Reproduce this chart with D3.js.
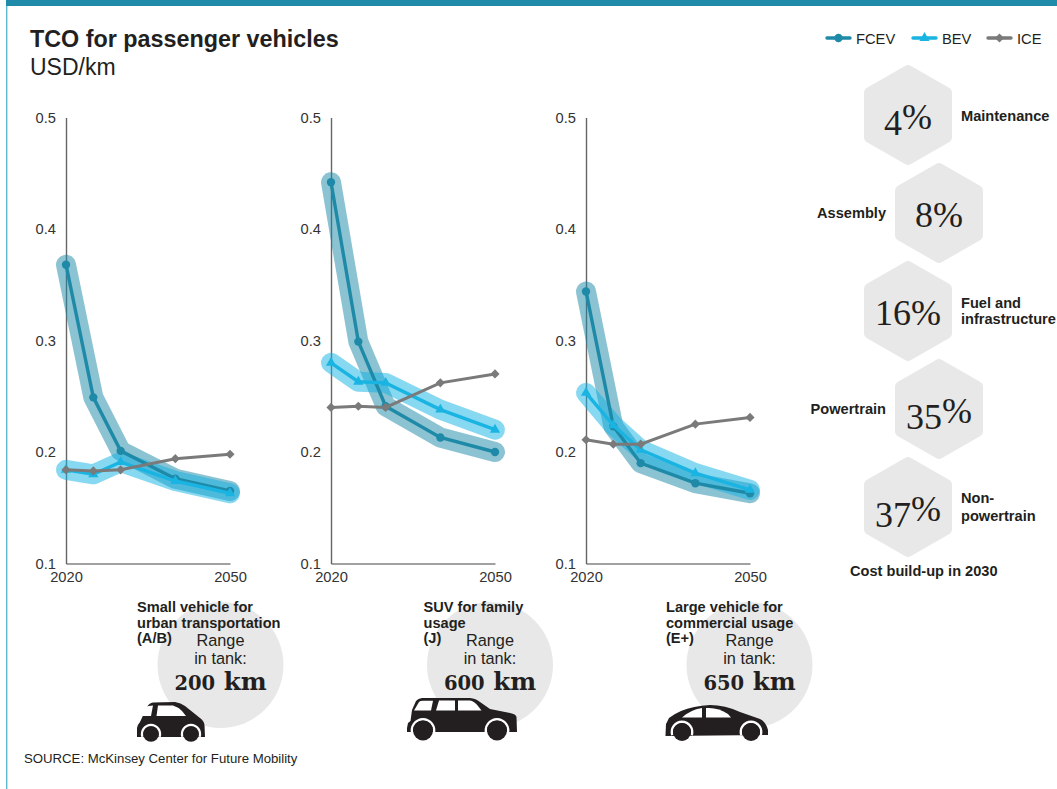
<!DOCTYPE html>
<html><head><meta charset="utf-8">
<script src="https://cdn.jsdelivr.net/npm/d3@7"></script>
<style>html,body{margin:0;padding:0;background:#fff}svg{display:block}text{font-family:"Liberation Sans",Arial,sans-serif;fill:#231f20}</style>
</head><body><svg id="c" width="1057" height="789"></svg>
<script>
const years=[2020,2025,2030,2040,2050];
const yTicks=[0.1,0.2,0.3,0.4,0.5];
const xTicks=[2020,2050];
const fcevA=[0.368,0.249,0.201,0.176,0.165];
const bevA=[0.184,0.180,0.191,0.174,0.163];
const iceA=[0.184,0.183,0.184,0.194,0.198];
const fcevB=[0.442,0.299,0.241,0.213,0.200];
const bevB=[0.280,0.263,0.262,0.238,0.220];
const iceB=[0.240,0.241,0.240,0.262,0.270];
const fcevC=[0.344,0.223,0.190,0.172,0.163];
const bevC=[0.253,0.224,0.202,0.181,0.166];
const iceC=[0.211,0.207,0.207,0.225,0.231];
const panelLeft=[66,331,586];
const panelFcev=[fcevA,fcevB,fcevC];
const panelBev=[bevA,bevB,bevC];
const panelIce=[iceA,iceB,iceC];
const vehicleLabels=[["Small vehicle for","urban transportation","(A/B)"],["SUV for family","usage","(J)"],["Large vehicle for","commercial usage","(E+)"]];
const rangeKm=["200","600","650"];
const shares=["4%","8%","16%","35%","37%"];
const shareLabels=[["Maintenance"],["Assembly"],["Fuel and","infrastructure"],["Powertrain"],["Non-","powertrain"]];

const COL={FCEV:"#1e8aa8",BEV:"#1ab4e2",ICE:"#7a7a7a"};
const svg=d3.select("#c");
svg.append("rect").attr("x",6).attr("y",0).attr("width",1.4).attr("height",789).attr("fill","#5cb8d0");
svg.append("rect").attr("x",6).attr("y",0).attr("width",1051).attr("height",6).attr("fill","#1f8ba8");
svg.append("text").attr("x",30).attr("y",47).attr("font-size",23.35).attr("font-weight",700).text("TCO for passenger vehicles");
svg.append("text").attr("x",30).attr("y",75).attr("font-size",23).text("USD/km");
svg.append("text").attr("x",24).attr("y",763).attr("font-size",13.2).text("SOURCE: McKinsey Center for Future Mobility");

const sym={FCEV:d3.symbol(d3.symbolCircle,55)(),BEV:d3.symbol(d3.symbolTriangle,45)(),ICE:d3.symbol(d3.symbolSquare,42)()};
const rot={FCEV:"",BEV:"",ICE:" rotate(45)"};
const y=d3.scaleLinear().domain([0.1,0.5]).range([563.5,117.5]);

panelLeft.forEach((left,i)=>{
  const x=d3.scaleLinear().domain([2020,2050]).range([left,left+164]);
  const g=svg.append("g");
  const line=d3.line().x((d,j)=>x(years[j])).y(d=>y(d)).curve(d3.curveLinear);
  const ya=g.append("g").attr("transform",`translate(${left},0)`)
    .call(d3.axisLeft(y).tickValues(yTicks).tickSize(0).tickPadding(10).tickFormat(d3.format(".1f")));
  ya.select(".domain").attr("stroke","#666").attr("stroke-width",1.4);
  ya.selectAll("text").attr("font-size",14.7).attr("font-family","Liberation Sans").style("fill","#333");
  const xa=g.append("g").attr("transform",`translate(0,563.5)`)
    .call(d3.axisBottom(x).tickValues(xTicks).tickSize(0).tickPadding(8).tickFormat(d3.format("d")));
  xa.select(".domain").attr("stroke","#444").attr("stroke-width",1.2);
  xa.selectAll("text").attr("font-size",14.7).attr("font-family","Liberation Sans").style("fill","#333");
  [[panelFcev[i],"#1987a7"],[panelBev[i],"#0fb1e3"]].forEach(([v,c])=>{
    g.append("path").attr("d",line(v)).attr("fill","none").attr("stroke",c).attr("stroke-width",20)
      .attr("stroke-linecap","round").attr("stroke-linejoin","round").attr("opacity",0.5);
  });
  [["FCEV",panelFcev[i]],["BEV",panelBev[i]],["ICE",panelIce[i]]].forEach(([k,v])=>{
    g.append("path").attr("d",line(v)).attr("fill","none").attr("stroke",COL[k]).attr("stroke-width",k==="ICE"?3:3.4);
    g.selectAll(null).data(v).join("path").attr("d",sym[k]).attr("fill",COL[k])
      .attr("transform",(d,j)=>`translate(${x(years[j])},${y(d)})${rot[k]}`);
  });
});

// legend
[["FCEV",827,856],["BEV",913,942],["ICE",988,1017]].forEach(([k,lx,tx])=>{
  svg.append("line").attr("x1",lx).attr("x2",lx+23).attr("y1",38).attr("y2",38).attr("stroke",COL[k]).attr("stroke-width",3.4).attr("stroke-linecap","round");
  svg.append("path").attr("d",sym[k]).attr("fill",COL[k]).attr("transform",`translate(${lx+11.5},38)${rot[k]}`);
  svg.append("text").attr("x",tx).attr("y",44).attr("font-size",14.7).text(k);
});

// range circles and labels
const circleX=[220.5,490,749.5], labelX=[137,423.5,666];
circleX.forEach((cx,i)=>{
  svg.append("circle").attr("cx",cx).attr("cy",665).attr("r",63).attr("fill","#e8e8e8");
});
circleX.forEach((cx,i)=>{
  vehicleLabels[i].forEach((t,j)=>svg.append("text").attr("x",labelX[i]).attr("y",612+j*15.6).attr("font-size",14.6).attr("font-weight",700).text(t));
  svg.append("text").attr("x",cx).attr("y",646).attr("text-anchor","middle").attr("font-size",16.3).text("Range");
  svg.append("text").attr("x",cx).attr("y",664).attr("text-anchor","middle").attr("font-size",16.3).text("in tank:");
  const t=svg.append("text").attr("x",cx).attr("y",689.5).attr("text-anchor","middle").attr("font-family","DejaVu Serif").attr("font-weight",700).style("font-family","DejaVu Serif");
  t.append("tspan").attr("font-size",19.5).text(rangeKm[i]);
  t.append("tspan").attr("font-size",24.5).text(" km");
});

// vehicle silhouettes (decorative icons)
const cars=[
 {body:"M137 737L137 728Q138 724 140 722L147 707Q149 703 153 702.5L175 702Q181 703 185 706L200 718Q204 721 204.5 725L205 737Z",
  windows:["M141 716L146 707Q148 705.5 153 705.5L151 716Z","M156.5 716L158 705.5L173 705.5Q178 707 182 711L186 716Z"],wheels:[[151,734],[191,734]],r:7.8},
 {body:"M407 728L408 723L410.5 721L412 710L416 701Q418 698.5 422 698L470 698Q476 698.5 480 702L490 709L510 713Q516 714 516.5 717L517 732L407 732Z",
  windows:["M414 710.5L419 702Q420 700.7 423 700.7L433 700.7L431 710.5Z","M436 710.5L439 700.5L455 700.5L455 710.5Z","M458 710.5L458 700.5L470 700.5Q474 701 478 706L481.5 710.5Z"],wheels:[[423,730.5],[497,730.5]],r:10},
 {body:"M665.5 735L666 724L669 718Q674 714 681 711Q693 706 710 705Q725 705 740 712L760 719Q766 722 768 730L768 735L665.5 736Z",
  windows:["M682 717.5Q690 710 702 708L702 717.5Z","M706 708Q718 707 728 714L731 717.5L706 717.5Z"],wheels:[[682,732],[751,732]],r:9}
];
cars.forEach(c=>{
  svg.append("path").attr("d",c.body).attr("fill","#231f20");
  c.windows.forEach(w=>svg.append("path").attr("d",w).attr("fill","#fff"));
  c.wheels.forEach(([cx,cy])=>{
    svg.append("path").attr("d",d3.arc()({innerRadius:c.r,outerRadius:c.r+2.4,startAngle:-Math.PI*0.6,endAngle:Math.PI*0.6})).attr("fill","#fff").attr("transform",`translate(${cx},${cy})`);
    svg.append("circle").attr("cx",cx).attr("cy",cy).attr("r",c.r).attr("fill","#231f20");
  });
});

// hexagons
const hexX=[908,939,908,939,908], hexY=[115,213,311,409,507];
const hexR=(44-6)*2/Math.sqrt(3);
const hexPts=d3.range(6).map(k=>{const a=Math.PI/3*k;return [hexR*Math.sin(a),-hexR*Math.cos(a)];});
const hexPath=d3.line().curve(d3.curveLinearClosed)(hexPts);
const oldStyleDrop={"3":6.5,"4":6.5,"5":6.5,"7":6.5};
shares.forEach((s,i)=>{
  svg.append("path").attr("d",hexPath).attr("transform",`translate(${hexX[i]},${hexY[i]})`).attr("fill","#e8e8e8").attr("stroke","#e8e8e8").attr("stroke-width",12).attr("stroke-linejoin","round");
  const t=svg.append("text").attr("x",hexX[i]).attr("y",hexY[i]+13.5).attr("text-anchor","middle").attr("font-size",36).attr("font-family","Liberation Serif").style("font-family","Liberation Serif");
  let cur=0;
  s.split("").forEach(ch=>{
    const want=oldStyleDrop[ch]||0;
    t.append("tspan").attr("dy",want-cur).text(ch);
    cur=want;
  });
  const right=i%2===0;
  const lx=right?961:886;
  const ly=[120.5,218,308,414,503][i];
  shareLabels[i].forEach((l,j)=>svg.append("text").attr("x",lx).attr("y",ly+j*(i===4?17.5:16)).attr("text-anchor",right?"start":"end").attr("font-size",14.6).attr("font-weight",700).text(l));
});
svg.append("text").attr("x",850).attr("y",576).attr("font-size",14.6).attr("font-weight",700).text("Cost build-up in 2030");
</script></body></html>
